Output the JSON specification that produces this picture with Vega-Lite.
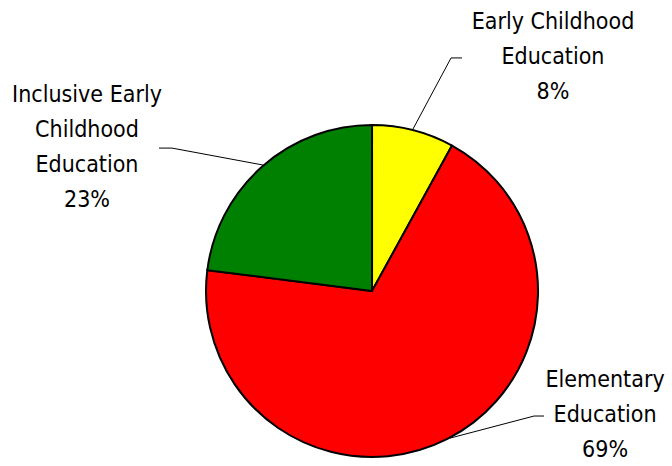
{
  "$schema": "https://vega.github.io/schema/vega-lite/v6.json",
  "width": 672,
  "height": 466,
  "autosize": {"type": "none"},
  "padding": 0,
  "background": "white",
  "config": {"view": {"stroke": null}},
  "datasets": {
    "slices": [
      {"category": "Early Childhood Education", "value": 8, "order": 1},
      {"category": "Elementary Education", "value": 69, "order": 2},
      {"category": "Inclusive Early Childhood Education", "value": 23, "order": 3}
    ],
    "labels": [
      {"label": "Early Childhood\nEducation\n8%", "u": 1.09, "v": 1.62},
      {"label": "Inclusive Early\nChildhood\nEducation\n23%", "u": -1.717, "v": 1.181},
      {"label": "Elementary\nEducation\n69%", "u": 1.404, "v": -0.536}
    ],
    "leaders": [
      {"slice": "Early", "pt": 1, "u": 0.542, "v": 1.404},
      {"slice": "Early", "pt": 2, "u": 0.476, "v": 1.404},
      {"slice": "Early", "pt": 3, "u": 0.247, "v": 0.976},
      {"slice": "Inclusive", "pt": 1, "u": -1.283, "v": 0.861},
      {"slice": "Inclusive", "pt": 2, "u": -1.205, "v": 0.861},
      {"slice": "Inclusive", "pt": 3, "u": -0.657, "v": 0.759},
      {"slice": "Elementary", "pt": 1, "u": 1.036, "v": -0.753},
      {"slice": "Elementary", "pt": 2, "u": 0.976, "v": -0.753},
      {"slice": "Elementary", "pt": 3, "u": 0.47, "v": -0.886}
    ]
  },
  "layer": [
    {
      "data": {"name": "slices"},
      "mark": {"type": "arc", "outerRadius": 166, "stroke": "black", "strokeWidth": 2},
      "encoding": {
        "x": {"datum": 0, "type": "quantitative", "scale": {"domain": [-2.241, 1.807], "nice": false, "zero": false}, "axis": null},
        "y": {"datum": 0, "type": "quantitative", "scale": {"domain": [-1.054, 1.753], "nice": false, "zero": false}, "axis": null},
        "theta": {"field": "value", "type": "quantitative", "stack": true},
        "order": {"field": "order", "type": "quantitative"},
        "color": {
          "field": "category",
          "type": "nominal",
          "scale": {
            "domain": ["Early Childhood Education", "Elementary Education", "Inclusive Early Childhood Education"],
            "range": ["#FFFF00", "#FF0000", "#008000"]
          },
          "legend": null
        }
      }
    },
    {
      "data": {"name": "leaders"},
      "mark": {"type": "line", "color": "black", "strokeWidth": 1},
      "encoding": {
        "x": {"field": "u", "type": "quantitative", "axis": null},
        "y": {"field": "v", "type": "quantitative", "axis": null},
        "detail": {"field": "slice"},
        "order": {"field": "pt"}
      }
    },
    {
      "data": {"name": "labels"},
      "mark": {
        "type": "text",
        "lineBreak": "\n",
        "align": "center",
        "baseline": "middle",
        "fontSize": 23,
        "lineHeight": 35,
        "font": "DejaVu Sans Condensed",
        "color": "black"
      },
      "encoding": {
        "x": {"field": "u", "type": "quantitative", "axis": null},
        "y": {"field": "v", "type": "quantitative", "axis": null},
        "text": {"field": "label"}
      }
    }
  ]
}
